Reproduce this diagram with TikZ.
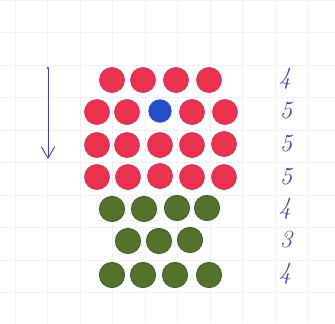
\documentclass[tikz,border=0pt]{standalone}
\usepackage{xcolor}
\usepackage{tikz}
\usetikzlibrary{positioning, calc, arrows.meta}

\definecolor{dotred}{RGB}{232,50,80}
\definecolor{dotblue}{RGB}{38,78,200}
\definecolor{dotgreen}{RGB}{84,114,44}
\definecolor{inkblue}{RGB}{78,62,168}
\definecolor{gridgrey}{RGB}{240,241,245}

\begin{document}
\begin{tikzpicture}[
        x=0.3mm, y=-0.3mm,
        % Define standard dot look
        dot/.style={
            circle,
            minimum size=7.6mm,
            inner sep=0pt
        },
        reddot/.style={dot, fill=dotred, draw=dotred!85!black, line width=0.3pt},
        bluedot/.style={dot, fill=dotblue, minimum size=7mm},
        greendot/.style={dot, fill=dotgreen, draw=dotgreen!70!black, line width=0.6pt},
        count/.style={font=\fontsize{21}{21}\selectfont\itshape, text=inkblue},
        gridline/.style={draw=gridgrey, line width=0.4pt}
    ]

    \useasboundingbox (0,0) rectangle (335,323);

    % ==========================================
    % SQUARED PAPER
    % ==========================================
    \foreach \gx in {15,47.5,...,335} {
        \draw[gridline] (\gx,0) -- (\gx,323);
    }
    \foreach \gy in {0,32.5,...,323} {
        \draw[gridline] (0,\gy) -- (335,\gy);
    }

    % ==========================================
    % RED ROWS
    % ==========================================

    % Row 1 (4 dots)
    \node[reddot] (d1_1) at (112,80) {};
    \node[reddot] (d1_2) at (143,80) {};
    \node[reddot] (d1_3) at (176,80) {};
    \node[reddot] (d1_4) at (209,80) {};

    % Row 2 (5 dots, blue in the middle)
    \node[reddot] (d2_1) at (97,112) {};
    \node[reddot] (d2_2) at (127,112) {};
    \node[bluedot] (d2_3) at (160,111) {};
    \node[reddot] (d2_4) at (192,112) {};
    \node[reddot] (d2_5) at (225,112) {};

    % Row 3 (5 dots)
    \node[reddot] (d3_1) at (97,145) {};
    \node[reddot] (d3_2) at (127,145) {};
    \node[reddot] (d3_3) at (160,145) {};
    \node[reddot] (d3_4) at (192,145) {};
    \node[reddot] (d3_5) at (224,144) {};

    % Row 4 (5 dots)
    \node[reddot] (d4_1) at (97,177) {};
    \node[reddot] (d4_2) at (128,177) {};
    \node[reddot] (d4_3) at (160,176) {};
    \node[reddot] (d4_4) at (192,177) {};
    \node[reddot] (d4_5) at (224,177) {};

    % ==========================================
    % GREEN ROWS
    % ==========================================

    % Row 5 (4 dots)
    \node[greendot] (d5_1) at (112,209) {};
    \node[greendot] (d5_2) at (144,209) {};
    \node[greendot] (d5_3) at (177,208) {};
    \node[greendot] (d5_4) at (207,208) {};

    % Row 6 (3 dots)
    \node[greendot] (d6_1) at (128,241) {};
    \node[greendot] (d6_2) at (159,241) {};
    \node[greendot] (d6_3) at (190,240) {};

    % Row 7 (4 dots)
    \node[greendot] (d7_1) at (112,275) {};
    \node[greendot] (d7_2) at (143,275) {};
    \node[greendot] (d7_3) at (175,275) {};
    \node[greendot] (d7_4) at (209,275) {};

    % ==========================================
    % ROW COUNTS
    % ==========================================
    \node[count] (n1) at (285,79) {4};
    \node[count] (n2) at (286,111) {5};
    \node[count] (n3) at (286,144) {5};
    \node[count] (n4) at (286,177) {5};
    \node[count] (n5) at (285,209) {4};
    \node[count] (n6) at (286,240) {3};
    \node[count] (n7) at (285,274) {4};

    % ==========================================
    % ARROW
    % ==========================================
    \coordinate (top) at (48,67);
    \coordinate (bottom) at (48,159);
    \draw[inkblue, line width=0.8pt, {Circle[length=1.8pt]}-{Straight Barb[length=3.4mm, width=4mm]}] (top) -- (bottom);

\end{tikzpicture}
\end{document}
